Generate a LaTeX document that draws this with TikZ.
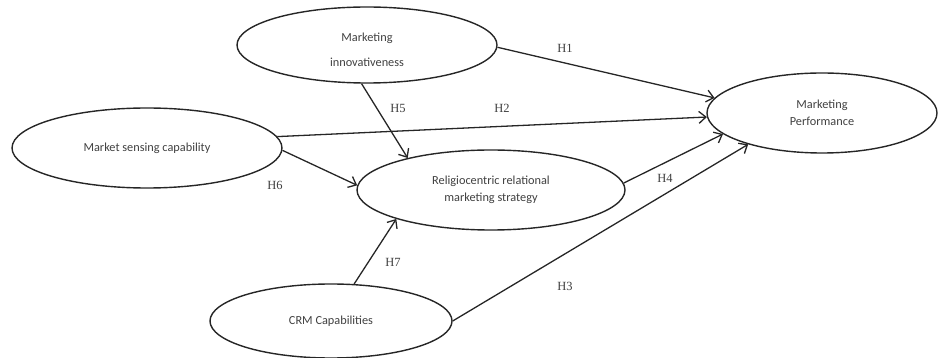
\documentclass[tikz,border=0pt]{standalone}
\usepackage{fontspec}
\setmainfont{Carlito}
\newfontfamily\labfont{Liberation Serif}
\usetikzlibrary{shapes.geometric,arrows.meta}
\definecolor{linec}{HTML}{262626}
\definecolor{textc}{HTML}{404040}
\begin{document}
\begin{tikzpicture}[x=1pt,y=-1pt,
  construct/.style={ellipse,draw=linec,line width=1.4pt,inner sep=0pt,align=center,
    text=textc,font=\fontsize{12.3}{17}\selectfont},
  ctext/.style={align=center,text=textc,font=\fontsize{12.3}{17}\selectfont,inner sep=0pt},
  link/.style={draw=linec,line width=1.3pt,-{Straight Barb[length=7pt,width=12pt,line width=1.3pt]}},
  hlab/.style={font=\labfont\fontsize{12.5}{14}\selectfont,text=textc,inner sep=0pt}]
\useasboundingbox (0,0) rectangle (938,358);
\node[construct,minimum width=260pt,minimum height=76pt,
  label={[ctext,yshift=-5pt]center:Marketing\\[8pt]innovativeness}] (mi) at (367,45) {};
\node[construct,minimum width=270pt,minimum height=80pt] (msc) at (147,148)
  {Market sensing capability};
\node[construct,minimum width=268pt,minimum height=80pt] (rr) at (491,190)
  {Religiocentric relational\\marketing strategy};
\node[construct,minimum width=230pt,minimum height=80pt] (mp) at (822,113)
  {Marketing\\Performance};
\node[construct,minimum width=242pt,minimum height=74pt] (crm) at (331,321)
  {CRM Capabilities};
\draw[link] (mi.-1) -- (mp.172.7);
\draw[link] (msc.5.9) -- (mp.182.5);
\draw[link] (mi.262.5) -- (rr.159.5);
\draw[link] (msc.-1.7) -- (rr.178.7);
\draw[link] (rr.3.4) -- (mp.192.7);
\draw[link] (crm.0) -- (mp.203.4);
\draw[link] (crm.58.6) -- (rr.197);
\node[hlab] (h1) at (565,48) {H1};
\node[hlab] (h2) at (502,108) {H2};
\node[hlab] (h5) at (398,108) {H5};
\node[hlab] (h6) at (275,185) {H6};
\node[hlab] (h4) at (665,178) {H4};
\node[hlab] (h3) at (565,286) {H3};
\node[hlab] (h7) at (393,262) {H7};
\end{tikzpicture}
\end{document}
